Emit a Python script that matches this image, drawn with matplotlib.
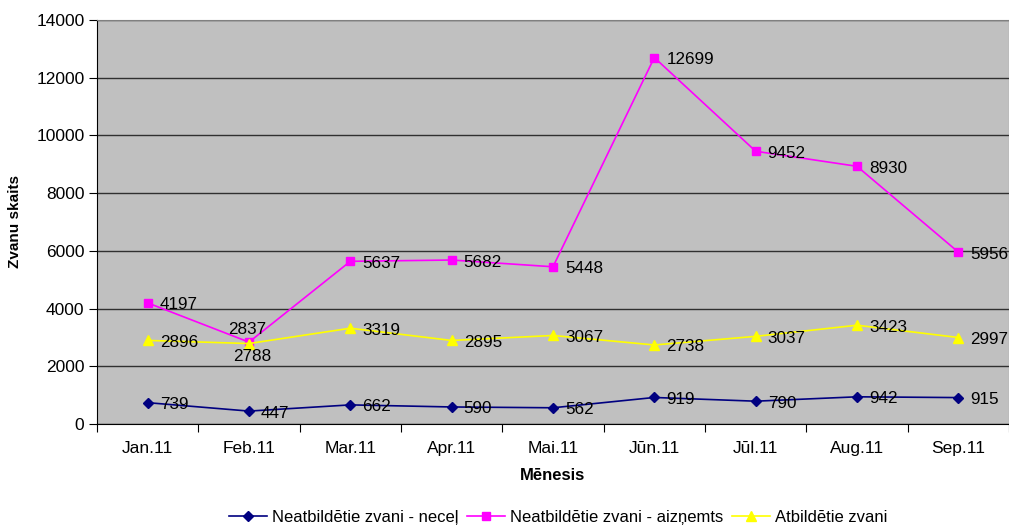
import matplotlib.pyplot as plt

plt.rcParams['font.family'] = ['Liberation Sans', 'DejaVu Sans']

months = ['Jan.11', 'Feb.11', 'Mar.11', 'Apr.11', 'Mai.11', 'Jūn.11', 'Jūl.11', 'Aug.11', 'Sep.11']
nenocelts = [739, 447, 662, 590, 562, 919, 790, 942, 915]
aiznemts = [4197, 2837, 5637, 5682, 5448, 12699, 9452, 8930, 5956]
atbildeti = [2896, 2788, 3319, 2895, 3067, 2738, 3037, 3423, 2997]
series_names = ['Neatbildētie zvani - neceļ', 'Neatbildētie zvani - aizņemts', 'Atbildētie zvani']

fig = plt.figure(figsize=(10.09, 5.25), dpi=100)
ax = fig.add_axes([0.0961, 0.1924, 0.9039, 0.7695])
ax.set_facecolor('#C0C0C0')

x = list(range(len(months)))
l1, = ax.plot(x, nenocelts, color='#000080', marker='D', markersize=5.5, lw=1.2, zorder=4)
l2, = ax.plot(x, aiznemts, color='#FF00FF', marker='s', markersize=6, lw=1.2, zorder=3)
l3, = ax.plot(x, atbildeti, color='#FFFF00', marker='^', markersize=7, lw=1.2, zorder=3)

# data labels, right of the point
for vals in (nenocelts, aiznemts, atbildeti):
    for i, v in enumerate(vals):
        if i == 1 and vals is aiznemts:
            ax.annotate(str(v), (i, v), xytext=(-2, 13), textcoords='offset pixels',
                        ha='center', va='center', fontsize=12.3, zorder=5)
        elif i == 1 and vals is atbildeti:
            ax.annotate(str(v), (i, v), xytext=(3, -13), textcoords='offset pixels',
                        ha='center', va='center', fontsize=12.3, zorder=5)
        else:
            ax.annotate(str(v), (i, v), xytext=(12, -2), textcoords='offset pixels',
                        ha='left', va='center', fontsize=12.3, zorder=5, annotation_clip=False)

ax.set_xlim(-0.5, len(months) - 0.5)
ax.set_ylim(0, 14000)
ax.set_yticks(range(0, 14001, 2000))
ax.yaxis.grid(True, color='#303030', lw=1)
ax.set_axisbelow(True)

ax.set_xticks([i - 0.5 for i in range(len(months) + 1)])
ax.set_xticklabels([])
ax.set_xticks(x, minor=True)
ax.set_xticklabels(months, minor=True)
ax.tick_params(axis='x', which='minor', length=0, pad=12, labelsize=12.5)
ax.tick_params(axis='x', which='major', length=6, direction='out', color='black')
ax.tick_params(axis='y', length=6, direction='out', labelsize=12.5, pad=3)

for s in ('left', 'bottom'):
    ax.spines[s].set_color('black')
for s in ('top', 'right'):
    ax.spines[s].set_color('#808080')

ax.set_ylabel('Zvanu skaits', fontsize=11, fontweight='bold', labelpad=10)
ax.set_xlabel('Mēnesis', fontsize=12, fontweight='bold', labelpad=9)

fig.legend([l1, l2, l3], series_names, loc='center', bbox_to_anchor=(0.553, 0.015),
           ncol=3, frameon=False, fontsize=12, handlelength=2.3, columnspacing=0.5,
           handletextpad=0.3, borderaxespad=0)

fig.savefig('out.png', dpi=100)
